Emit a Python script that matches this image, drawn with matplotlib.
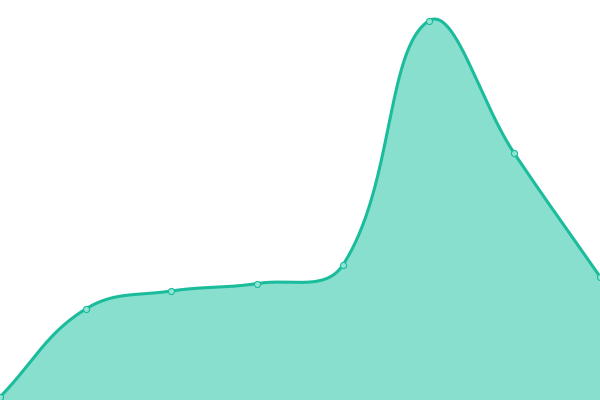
import numpy as np
import matplotlib
matplotlib.use("Agg")
import matplotlib.pyplot as plt

# Data (heights above baseline)
categories = list(range(8))
values = [3, 91, 109, 116.5, 135, 379, 246.7, 123.3]

line_color = "#1abc9c"
fill_color = "#89dfce"
tension = 0.4

fig = plt.figure(figsize=(6, 4), dpi=100)
ax = fig.add_axes([0, 0, 1, 1])
ax.set_xlim(0, len(categories) - 1)
ax.set_ylim(0, 400)
ax.axis("off")

# Convert data points to display pixels, build Chart.js-like spline
pts = ax.transData.transform(np.column_stack([categories, values]))
n = len(pts)
W, H = fig.bbox.width, fig.bbox.height
cps = []
for i in range(n):
    cur = pts[i]
    prev = pts[i - 1] if i > 0 else cur
    nxt = pts[i + 1] if i < n - 1 else cur
    d01 = np.hypot(*(cur - prev))
    d12 = np.hypot(*(nxt - cur))
    tot = d01 + d12
    s01 = d01 / tot if tot else 0
    s12 = d12 / tot if tot else 0
    fa = tension * s01
    fb = tension * s12
    cp_prev = cur - fa * (nxt - prev)
    cp_next = cur + fb * (nxt - prev)
    cp_prev = np.clip(cp_prev, [0, 0], [W, H])
    cp_next = np.clip(cp_next, [0, 0], [W, H])
    cps.append((cp_prev, cp_next))

curve = []
t = np.linspace(0, 1, 60)[:, None]
for i in range(n - 1):
    p0 = pts[i]
    p1 = cps[i][1]
    p2 = cps[i + 1][0]
    p3 = pts[i + 1]
    seg = ((1 - t) ** 3) * p0 + 3 * ((1 - t) ** 2) * t * p1 + 3 * (1 - t) * t ** 2 * p2 + t ** 3 * p3
    curve.append(seg if i == 0 else seg[1:])
curve = np.vstack(curve)
curve_data = ax.transData.inverted().transform(curve)

ax.fill_between(curve_data[:, 0], 0, curve_data[:, 1], color=fill_color, lw=0, zorder=1)
ax.plot(curve_data[:, 0], curve_data[:, 1], color=line_color, lw=2.2, zorder=2,
        solid_capstyle="round")
ax.plot(categories, values, "o", ms=4.4, mfc="#8fe3d3", mec=line_color, mew=0.8,
        zorder=3, clip_on=False)

fig.savefig("out.png", dpi=100)
